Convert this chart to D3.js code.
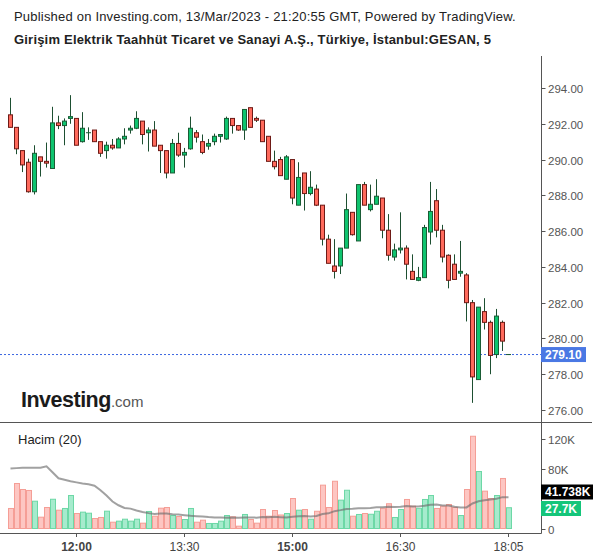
<!DOCTYPE html>
<html><head><meta charset="utf-8">
<script src="https://cdn.jsdelivr.net/npm/d3@7"></script>
<style>
body{margin:0;background:#fff}
svg{display:block}
text{font-family:"Liberation Sans",Arial,sans-serif}
</style>
</head><body>
<svg id="chart" width="600" height="558"></svg>
<script>
// ---- data (5-minute candles, 11:05 .. 18:05) ----
const openP  = [292.5,291.8,290.5,289.85,288.2,290.15,289.9,289.5,292.05,291.9,292.3,292.3,291.0,291.5,291.65,291.0,290.5,290.8,290.65,291.15,291.65,291.75,292.15,291.5,291.65,290.8,290.5,289.25,290.9,290.25,290.6,291.5,291.0,290.75,291.0,291.3,291.15,292.3,291.9,291.65,292.9,292.3,292.2,291.3,289.9,290.0,288.9,290.0,287.45,289.25,288.1,288.35,287.45,285.55,284.05,284.05,285.05,287.05,285.45,288.6,287.2,287.5,287.85,286.05,284.55,284.95,285.05,283.75,283.25,283.4,285.95,287.7,286.05,284.65,284.15,283.65,283.55,282.0,277.7,281.5,280.9,279.1,280.9,279.1];
const highP  = [293.45,291.8,290.5,290.05,290.8,290.15,290.95,292.95,292.45,292.3,293.6,292.3,292.65,291.8,291.65,291.0,291.0,291.15,291.25,291.75,291.9,292.7,292.15,291.8,292.15,290.8,290.5,291.15,291.5,290.65,292.4,291.65,291.4,291.15,291.45,291.4,292.4,292.3,291.9,292.8,292.9,292.4,292.2,291.3,290.5,290.15,290.25,290.0,289.85,289.25,289.35,288.6,287.45,285.8,285.55,285.05,288.1,287.05,288.6,288.75,288.6,288.9,287.85,286.95,285.3,287.05,285.2,284.7,284.0,286.35,288.75,288.35,286.35,284.7,284.7,285.45,283.65,282.15,281.75,282.25,281.0,281.65,281.0,279.1];
const lowP   = [291.8,290.3,289.3,288.15,288.05,289.05,289.55,289.5,291.7,290.8,292.0,290.8,290.95,291.1,291.0,290.15,290.05,290.55,290.65,290.85,291.45,291.7,290.85,290.45,290.75,289.25,288.95,289.25,290.15,289.55,290.55,290.95,290.3,290.55,290.8,290.95,291.1,291.45,291.6,291.1,291.8,292.1,291.0,289.9,289.45,289.1,288.9,287.5,287.45,287.15,288.0,287.4,285.2,284.2,283.35,283.6,285.05,285.75,285.45,287.45,287.1,287.5,285.6,284.35,284.35,284.75,283.3,283.3,283.2,283.4,285.25,285.65,284.25,282.8,283.3,283.45,280.95,276.4,277.7,280.5,278.0,278.9,279.3,279.1];
const closeP = [291.8,290.6,289.7,288.2,290.35,289.9,289.8,292.05,291.9,292.15,292.4,290.8,291.75,291.5,291.0,290.35,290.8,290.65,291.15,291.3,291.75,292.3,291.4,291.65,290.75,290.5,289.25,290.9,290.25,290.4,291.75,291.25,290.4,290.9,291.3,291.4,292.3,291.9,291.65,292.8,291.8,292.2,291.0,289.9,289.6,289.1,290.15,287.85,289.0,288.1,288.45,287.45,285.55,284.2,283.75,285.05,287.2,285.8,288.6,287.45,287.5,287.95,286.05,284.65,284.95,285.05,284.15,283.3,283.4,286.2,287.1,286.05,284.55,283.25,283.3,283.75,282.0,277.85,281.75,280.9,279.05,281.25,279.85,279.1];
// volume in thousands
const volumeK = [26.7,60,52,50.7,36.4,15.1,28,39,24.4,26.7,44,20,21.8,20.4,13.3,14.7,23.1,8.4,9.8,12.4,9.8,12.4,7.1,22.7,16.4,27.1,28,17.3,16,12,26.7,8.4,11.1,6.7,6.7,9.8,17.3,15.6,3.1,18.7,12,7.1,25.3,16.4,24,18,20,40,24.4,25.3,12.4,23,57.8,28,63,37.8,51,16.4,18.7,20,19,23,27,33,14.7,25.3,38.7,29.8,27,38.7,44,26.7,29.8,32,28,17.3,52,123,76,49.8,40,44,66.7,27.7];
// 20-period volume average (thousands)
const volumeMA = [80,80.5,81,81,81,81,83,75,67,65,63,61.5,60,59,57,51,44,36,31,27.3,26.5,24.1,21.9,20.5,19.5,20.1,20.1,19.0,18.6,17.8,17.0,16.4,15.9,15.2,14.8,14.6,14.3,14.7,14.3,14.6,14.8,14.5,15.4,15.1,15.5,15.0,14.6,15.7,16.2,16.8,16.1,16.8,19.2,20.2,23.1,24.5,26.1,26.2,27.0,27.0,27.4,28.2,28.3,29.1,28.6,29.0,29.9,29.4,29.5,30.2,31.8,32.0,30.6,30.8,29.0,28.0,28.1,33.4,36.3,37.7,38.8,39.8,41.8,41.7];
const priceTicks = [276,278,280,282,284,286,288,290,292,294];
const volTicks = [0,80,120];
const volTickLabels = ["0","80K","120K"];
const xTickIndex = [11,29,47,65,83];
const xTickLabels = ["12:00","13:30","15:00","16:30","18:05"];
const xTickBold = [true,false,true,false,false];
const lastPrice = 279.10;
const lastVolLabel = "27.7K";
const volMALabel = "41.738K";
const titleLine1 = "Published on Investing.com, 13/Mar/2023 - 21:20:55 GMT, Powered by TradingView.";
const titleLine2 = "Girişim Elektrik Taahhüt Ticaret ve Sanayi A.Ş., Türkiye, İstanbul:GESAN, 5";

// ---- scales ----
const n = openP.length;
const x = d3.scaleLinear().domain([0, n-1]).range([10.5, 10.5 + 6*(n-1)]);
const y = d3.scaleLinear().domain([276, 294]).range([410, 88]);
const yv = d3.scaleLinear().domain([0, 120]).range([528.5, 438.5]);

const svg = d3.select("#chart");
svg.append("rect").attr("width",600).attr("height",558).attr("fill","#fff");

// titles
svg.append("text").attr("x",14).attr("y",21).attr("font-size",13).attr("letter-spacing","0.2").attr("fill","#222").text(titleLine1);
svg.append("text").attr("x",14).attr("y",44).attr("font-size",13).attr("letter-spacing","0.2").attr("font-weight","bold").attr("fill","#222").text(titleLine2);

const AX = 541.5;
const axisColor = "#555";

// frame lines
svg.append("line").attr("x1",AX).attr("x2",AX).attr("y1",56).attr("y2",533.5).attr("stroke",axisColor);
svg.append("line").attr("x1",0).attr("x2",592).attr("y1",422.5).attr("y2",422.5).attr("stroke",axisColor);
svg.append("line").attr("x1",0).attr("x2",AX).attr("y1",533.5).attr("y2",533.5).attr("stroke",axisColor);

// price axis
const pAxis = svg.append("g");
priceTicks.forEach(t => {
  const yy = Math.round(y(t)) + 0.5;
  pAxis.append("line").attr("x1",AX).attr("x2",AX+4).attr("y1",yy).attr("y2",yy).attr("stroke",axisColor);
  pAxis.append("text").attr("x",548).attr("y",yy).attr("dy","0.35em").attr("font-size",11.5).attr("fill","#555").text(t.toFixed(2));
});

// volume axis
volTicks.forEach((t,i) => {
  const yy = Math.round(yv(t)) + 0.5;
  svg.append("line").attr("x1",AX).attr("x2",AX+4).attr("y1",yy).attr("y2",yy).attr("stroke",axisColor);
  svg.append("text").attr("x",548).attr("y",yy).attr("dy","0.35em").attr("font-size",11.5).attr("fill","#555").text(volTickLabels[i]);
});

// time axis
xTickIndex.forEach((idx,i) => {
  const xx = x(idx);
  svg.append("line").attr("x1",xx).attr("x2",xx).attr("y1",533.5).attr("y2",537).attr("stroke",axisColor);
  svg.append("text").attr("x",xx).attr("y",551).attr("text-anchor","middle").attr("font-size",12)
    .attr("font-weight", xTickBold[i] ? "bold" : "normal").attr("fill","#444").text(xTickLabels[i]);
});

// logo
const logo = svg.append("text").attr("x",21).attr("y",407);
logo.append("tspan").attr("font-size",21.5).attr("font-weight","bold").attr("fill","#1b1b1b").attr("letter-spacing","-0.5").text("Investing");
logo.append("tspan").attr("font-size",15).attr("fill","#555").text(".com");

// last price line
svg.append("line").attr("x1",0).attr("x2",AX).attr("y1",y(lastPrice)).attr("y2",y(lastPrice))
  .attr("stroke","#3a66e0").attr("stroke-dasharray","2,2").attr("stroke-width",1);

// candles
const data = d3.range(n).map(i => ({i, o:openP[i], h:highP[i], l:lowP[i], c:closeP[i], v:volumeK[i], ma:volumeMA[i]}));
const up = d => d.c >= d.o;
const cg = svg.append("g");
cg.selectAll("line.wick").data(data).join("line")
  .attr("x1",d=>x(d.i)).attr("x2",d=>x(d.i))
  .attr("y1",d=>y(d.h)).attr("y2",d=>y(d.l))
  .attr("stroke","#1d4f31").attr("stroke-width",1);
cg.selectAll("rect.body").data(data).join("rect")
  .attr("x",d=>x(d.i)-2).attr("width",4)
  .attr("y",d=>y(Math.max(d.o,d.c)))
  .attr("height",d=>Math.max(0.01, y(Math.min(d.o,d.c)) - y(Math.max(d.o,d.c))))
  .attr("fill",d=>up(d)?"#0fc46f":"#ff6a5c")
  .attr("stroke",d=>up(d)?"#1a5c35":"#6e1a16").attr("stroke-width",1);

// volume bars
svg.append("g").selectAll("rect").data(data).join("rect")
  .attr("x",d=>x(d.i)-2).attr("width",5)
  .attr("y",d=>yv(d.v)).attr("height",d=>yv(0)-yv(d.v))
  .attr("fill",d=>up(d)?"#a6ebcd":"#fdc6c2")
  .attr("stroke",d=>up(d)?"#6dd8a6":"#f59e96").attr("stroke-width",1);

// volume MA
svg.append("path").datum(data)
  .attr("d", d3.line().x(d=>x(d.i)).y(d=>yv(d.ma)))
  .attr("fill","none").attr("stroke","rgba(110,110,110,0.65)").attr("stroke-width",2);

// volume label
svg.append("text").attr("x",18).attr("y",444).attr("font-size",13).attr("fill","#222").text("Hacim (20)");

// last-value boxes
function box(yc, w, fill, label){
  svg.append("rect").attr("x",541).attr("y",yc-7.5).attr("width",w).attr("height",15).attr("fill",fill);
  svg.append("text").attr("x",545).attr("y",yc).attr("dy","0.36em").attr("font-size",12).attr("font-weight","bold").attr("fill","#fff").text(label);
}
box(y(lastPrice), 45, "#4a78e4", lastPrice.toFixed(2));
box(492, 52, "#000", volMALabel);
box(508.5, 40, "#14c57a", lastVolLabel);
</script>
</body></html>
